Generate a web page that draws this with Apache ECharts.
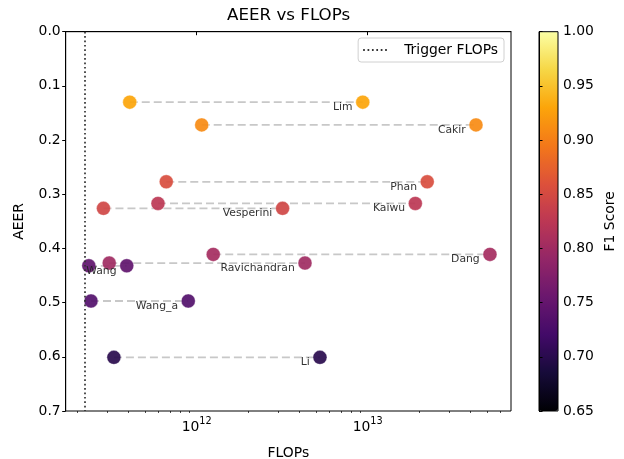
<!DOCTYPE html>
<html>
<head>
<meta charset="utf-8">
<script src="https://cdn.jsdelivr.net/npm/echarts@6/dist/echarts.min.js"></script>
<style>
html,body{margin:0;padding:0;background:#fff;}
#chart{width:624px;height:459px;}
</style>
</head>
<body>
<div id="chart"></div>
<script>
// ---- data ----
const MODELS = ['Lim', 'Cakir', 'Phan', 'Kaiwu', 'Vesperini', 'Dang', 'Ravichandran', 'Wang', 'Wang_a', 'Li'];
const FLOPS_LOW = [4.06e11, 1.07e12, 6.64e11, 5.94e11, 2.85e11, 1.25e12, 3.08e11, 2.34e11, 2.41e11, 3.28e11];
const FLOPS_HIGH = [9.36e12, 4.30e13, 2.23e13, 1.90e13, 3.18e12, 5.19e13, 4.30e12, 3.90e11, 8.93e11, 5.26e12];
const AEER = [0.130, 0.172, 0.277, 0.317, 0.326, 0.411, 0.427, 0.432, 0.497, 0.601];
const F1 = [0.93, 0.91, 0.855, 0.825, 0.845, 0.805, 0.80, 0.745, 0.735, 0.70];
const TRIGGER_FLOPS = 2.22e11;
const X_MIN = 1.714e11, X_MAX = 6.89e13;
const X_MAJOR_TICKS = [1e12, 1e13];
const X_MINOR_TICKS = [2e11, 3e11, 4e11, 5e11, 6e11, 7e11, 8e11, 9e11,
  2e12, 3e12, 4e12, 5e12, 6e12, 7e12, 8e12, 9e12,
  2e13, 3e13, 4e13, 5e13, 6e13];
const Y_MIN = 0, Y_MAX = 0.7, Y_STEP = 0.1;
const F1_MIN = 0.65, F1_MAX = 1.0, F1_STEP = 0.05;
const INFERNO = ['#000004', '#160b39', '#420a68', '#6a176e', '#932667', '#bc3754',
  '#dd513a', '#f37819', '#fca50a', '#f6d746', '#fcffa4'];

const FONT = 'DejaVu Sans';
const chart = echarts.init(document.getElementById('chart'), null, {renderer: 'canvas'});

const series = [];
// connecting dashed lines
MODELS.forEach((m, i) => {
  series.push({
    type: 'line', name: m + '_link', xAxisIndex: 0, yAxisIndex: 0,
    data: [[FLOPS_LOW[i], AEER[i]], [FLOPS_HIGH[i], AEER[i]]],
    symbol: 'none', silent: true, z: 2,
    lineStyle: {color: '#c8c8c8', width: 1.8, type: [8, 4]}
  });
});
// trigger line
const TRIG_STYLE = {color: '#333', width: 1.7, type: [1.7, 2.7]};
series.push({
  type: 'line', name: 'Trigger FLOPs', xAxisIndex: 0, yAxisIndex: 0,
  data: [], symbol: 'none', z: 3,
  lineStyle: TRIG_STYLE,
  itemStyle: {color: '#333'},
  markLine: {
    silent: true, symbol: 'none', label: {show: false},
    lineStyle: TRIG_STYLE,
    data: [{xAxis: TRIGGER_FLOPS}]
  }
});
// scatter points
const pts = [];
MODELS.forEach((m, i) => {
  pts.push({name: m, value: [FLOPS_LOW[i], AEER[i], F1[i]], label: {show: false}});
  pts.push({name: m, value: [FLOPS_HIGH[i], AEER[i], F1[i]], label: {show: true}});
});
const scatterIndex = series.length;
series.push({
  type: 'scatter', name: 'points', xAxisIndex: 0, yAxisIndex: 0, z: 4,
  symbolSize: 14,
  itemStyle: {opacity: 0.92, borderColor: 'rgba(255,255,255,0.8)', borderWidth: 0.5},
  label: {
    position: 'left', distance: 3, offset: [0, 5], formatter: '{b}',
    fontFamily: FONT, fontSize: 10.8, color: '#222'
  },
  emphasis: {disabled: true},
  data: pts
});

const option = {
  animation: false,
  backgroundColor: '#fff',
  textStyle: {fontFamily: FONT},
  title: {
    text: 'AEER vs FLOPs', left: 227, top: 7, padding: 0,
    textStyle: {fontFamily: FONT, fontSize: 16.7, fontWeight: 'normal', color: '#000'}
  },
  legend: {
    data: [{name: 'Trigger FLOPs', itemStyle: {color: 'transparent', borderColor: 'transparent', borderWidth: 0, opacity: 0}}],
    right: 120, top: 38,
    padding: [5, 6, 5, 4], itemWidth: 25, itemHeight: 10,
    backgroundColor: '#fff', borderColor: '#d0d0d0', borderWidth: 1, borderRadius: 3,
    textStyle: {fontFamily: FONT, fontSize: 13.9, color: '#000', padding: [0, 0, 0, 11]},
    selectedMode: false
  },
  grid: [
    {left: 65.7, top: 31.7, width: 445.3, height: 379.3, show: true, outerBoundsMode: 'none',
     borderColor: '#000', borderWidth: 1, backgroundColor: 'transparent', containLabel: false},
    {left: 539, top: 31.7, width: 19, height: 379.3, show: true, z: 10, outerBoundsMode: 'none',
     borderColor: '#000', borderWidth: 1, backgroundColor: 'transparent'}
  ],
  xAxis: [
    {
      type: 'log', gridIndex: 0, min: X_MIN, max: X_MAX, logBase: 10,
      name: 'FLOPs', nameLocation: 'middle', nameGap: 35,
      nameTextStyle: {fontFamily: FONT, fontSize: 13.9, color: '#000'},
      axisLine: {show: true, lineStyle: {color: '#000', width: 1}},
      axisTick: {show: true, inside: false, length: 3.5, lineStyle: {color: '#000', width: 1}, customValues: X_MAJOR_TICKS},
      axisLabel: {
        show: true, margin: 5, customValues: X_MAJOR_TICKS,
        formatter: v => '{b|10}{s|' + Math.round(Math.log10(v)) + '}',
        rich: {
          b: {fontFamily: FONT, fontSize: 13.9, color: '#000', lineHeight: 18, verticalAlign: 'bottom'},
          s: {fontFamily: FONT, fontSize: 9.7, color: '#000', lineHeight: 18, verticalAlign: 'top', padding: [0, 0, 8, 0]}
        }
      },
      splitLine: {show: false}
    },
    {
      type: 'log', gridIndex: 0, min: X_MIN, max: X_MAX, logBase: 10, position: 'bottom',
      axisLine: {show: false},
      axisTick: {show: true, inside: false, length: 2, lineStyle: {color: '#000', width: 0.7}, customValues: X_MINOR_TICKS},
      axisLabel: {show: false},
      splitLine: {show: false}
    },
    {
      type: 'value', gridIndex: 1, min: 0, max: 1, show: false
    }
  ],
  yAxis: [
    {
      type: 'value', gridIndex: 0, inverse: true, min: Y_MIN, max: Y_MAX, interval: Y_STEP,
      name: 'AEER', nameLocation: 'middle', nameGap: 39,
      nameTextStyle: {fontFamily: FONT, fontSize: 13.9, color: '#000'},
      axisLine: {show: true, lineStyle: {color: '#000', width: 1}},
      axisTick: {show: true, inside: false, length: 3.5, lineStyle: {color: '#000', width: 1}},
      axisLabel: {fontFamily: FONT, fontSize: 13.9, color: '#000', margin: 5, formatter: v => v.toFixed(1)},
      splitLine: {show: false}
    },
    {
      type: 'value', gridIndex: 1, position: 'right', min: F1_MIN, max: F1_MAX, interval: F1_STEP, z: 10,
      name: 'F1 Score', nameLocation: 'middle', nameGap: 45, nameRotate: 90,
      nameTextStyle: {fontFamily: FONT, fontSize: 13.9, color: '#000'},
      axisLine: {show: true, lineStyle: {color: '#000', width: 1}},
      axisTick: {show: true, inside: false, length: 3.5, lineStyle: {color: '#000', width: 1}},
      axisLabel: {fontFamily: FONT, fontSize: 13.9, color: '#000', margin: 5, formatter: v => v.toFixed(2)},
      splitLine: {show: false}
    }
  ],
  visualMap: {
    type: 'continuous', min: F1_MIN, max: F1_MAX, dimension: 2, seriesIndex: scatterIndex,
    inRange: {color: INFERNO}, calculable: false, hoverLink: false, realtime: false,
    left: 539, top: 31.7, itemWidth: 19, itemHeight: 379.3, padding: 0, text: null, showLabel: false,
    orient: 'vertical', z: 4
  },
  series: series
};
chart.setOption(option);
</script>
</body>
</html>
